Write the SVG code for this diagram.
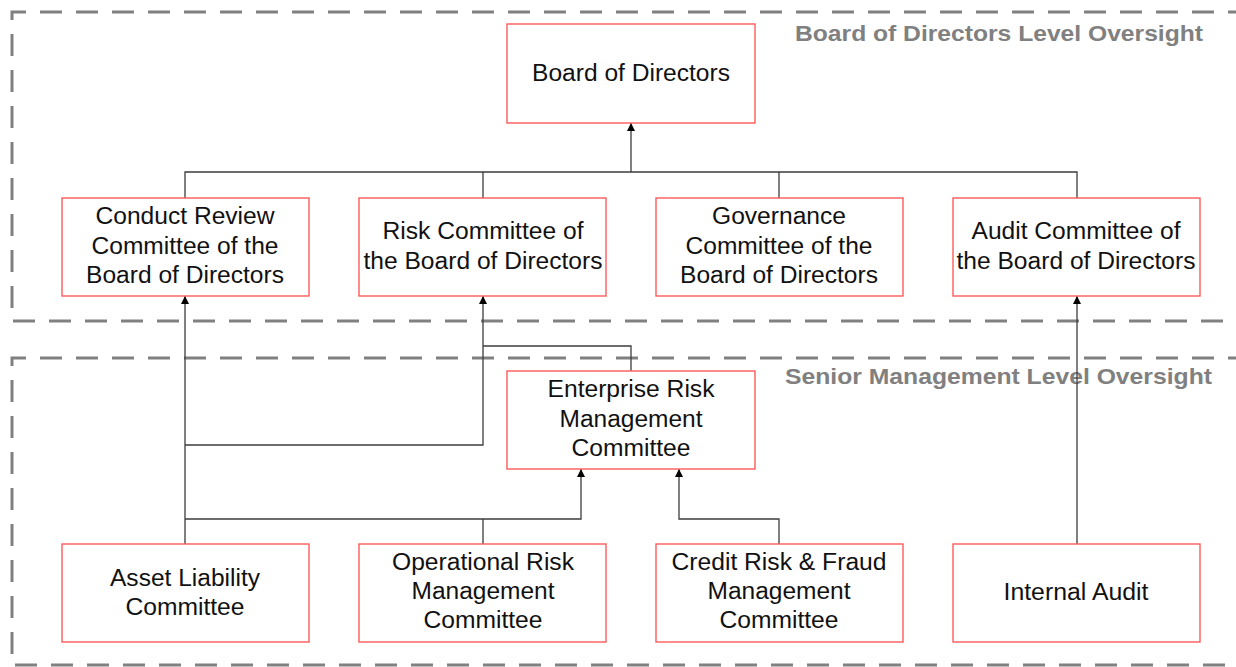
<svg xmlns="http://www.w3.org/2000/svg" width="1236" height="667" viewBox="0 0 1236 667">
<defs>
<style>
.zone{fill:none;stroke:#808080;stroke-width:3;stroke-dasharray:22 14}
.zt{font-family:"Liberation Sans",Arial,sans-serif;font-size:22px;font-weight:bold;fill:#808080}
.box{fill:#fff;stroke:#ff5a5a;stroke-width:1.4}
.t{font-family:"Liberation Sans",Arial,sans-serif;font-size:23px;fill:#111;text-anchor:middle}
.c{fill:none;stroke:#3c3c3c;stroke-width:1.3}
</style>
<marker id="ah" viewBox="0 0 10 10" refX="10" refY="5" markerWidth="10" markerHeight="8" markerUnits="userSpaceOnUse" orient="auto">
<path d="M0,0 L10,5 L0,10 z" fill="#000"/>
</marker>
</defs>
<rect width="1236" height="667" fill="#fff"/>

<g id="zone-board">
<path class="zone" d="M1250,12 H12 V321 H1250"/>
<text class="zt" x="1203" y="41" text-anchor="end" textLength="408" lengthAdjust="spacingAndGlyphs">Board of Directors Level Oversight</text>
</g>
<g id="zone-senior">
<path class="zone" d="M1250,358 H12 V665 H1250"/>
<text class="zt" x="785" y="384" textLength="427" lengthAdjust="spacingAndGlyphs">Senior Management Level Oversight</text>
</g>

<g id="connectors">
<path class="c" d="M185,198 V172 H1077 V198"/>
<path class="c" d="M483,198 V172"/>
<path class="c" d="M779,198 V172"/>
<path class="c" d="M631,172 V123" marker-end="url(#ah)"/>
<path class="c" d="M185,544 V296" marker-end="url(#ah)"/>
<path class="c" d="M185,445 H483 V296" marker-end="url(#ah)"/>
<path class="c" d="M631,371 V346 H483"/>
<path class="c" d="M185,519 H581 V469" marker-end="url(#ah)"/>
<path class="c" d="M483,544 V519"/>
<path class="c" d="M779,544 V519 H679 V469" marker-end="url(#ah)"/>
<path class="c" d="M1077,544 V296" marker-end="url(#ah)"/>
</g>

<g id="board">
<rect class="box" x="507" y="24" width="248" height="99"/>
<text class="t" x="631" y="81" textLength="198" lengthAdjust="spacingAndGlyphs">Board of Directors</text>
</g>
<g id="conduct">
<rect class="box" x="62" y="198" width="247" height="98"/>
<text class="t" x="185" y="224" textLength="179" lengthAdjust="spacingAndGlyphs">Conduct Review</text>
<text class="t" x="185" y="254" textLength="187" lengthAdjust="spacingAndGlyphs">Committee of the</text>
<text class="t" x="185" y="283" textLength="198" lengthAdjust="spacingAndGlyphs">Board of Directors</text>
</g>
<g id="risk">
<rect class="box" x="359" y="198" width="247" height="98"/>
<text class="t" x="483" y="239" textLength="201" lengthAdjust="spacingAndGlyphs">Risk Committee of</text>
<text class="t" x="483" y="269" textLength="239" lengthAdjust="spacingAndGlyphs">the Board of Directors</text>
</g>
<g id="governance">
<rect class="box" x="656" y="198" width="247" height="98"/>
<text class="t" x="779" y="224" textLength="134" lengthAdjust="spacingAndGlyphs">Governance</text>
<text class="t" x="779" y="254" textLength="187" lengthAdjust="spacingAndGlyphs">Committee of the</text>
<text class="t" x="779" y="283" textLength="198" lengthAdjust="spacingAndGlyphs">Board of Directors</text>
</g>
<g id="audit">
<rect class="box" x="953" y="198" width="247" height="98"/>
<text class="t" x="1076" y="239" textLength="209" lengthAdjust="spacingAndGlyphs">Audit Committee of</text>
<text class="t" x="1076" y="269" textLength="239" lengthAdjust="spacingAndGlyphs">the Board of Directors</text>
</g>
<g id="erm">
<rect class="box" x="507" y="371" width="248" height="98"/>
<text class="t" x="631" y="397" textLength="167" lengthAdjust="spacingAndGlyphs">Enterprise Risk</text>
<text class="t" x="631" y="427" textLength="143" lengthAdjust="spacingAndGlyphs">Management</text>
<text class="t" x="631" y="456" textLength="119" lengthAdjust="spacingAndGlyphs">Committee</text>
</g>
<g id="alco">
<rect class="box" x="62" y="544" width="247" height="98"/>
<text class="t" x="185" y="586" textLength="150" lengthAdjust="spacingAndGlyphs">Asset Liability</text>
<text class="t" x="185" y="615" textLength="119" lengthAdjust="spacingAndGlyphs">Committee</text>
</g>
<g id="oprisk">
<rect class="box" x="359" y="544" width="247" height="98"/>
<text class="t" x="483" y="570" textLength="182" lengthAdjust="spacingAndGlyphs">Operational Risk</text>
<text class="t" x="483" y="599" textLength="143" lengthAdjust="spacingAndGlyphs">Management</text>
<text class="t" x="483" y="628" textLength="119" lengthAdjust="spacingAndGlyphs">Committee</text>
</g>
<g id="credit">
<rect class="box" x="656" y="544" width="247" height="98"/>
<text class="t" x="779" y="570" textLength="215" lengthAdjust="spacingAndGlyphs">Credit Risk &amp; Fraud</text>
<text class="t" x="779" y="599" textLength="143" lengthAdjust="spacingAndGlyphs">Management</text>
<text class="t" x="779" y="628" textLength="119" lengthAdjust="spacingAndGlyphs">Committee</text>
</g>
<g id="internal-audit">
<rect class="box" x="953" y="544" width="247" height="98"/>
<text class="t" x="1076" y="600" textLength="145" lengthAdjust="spacingAndGlyphs">Internal Audit</text>
</g>
</svg>
